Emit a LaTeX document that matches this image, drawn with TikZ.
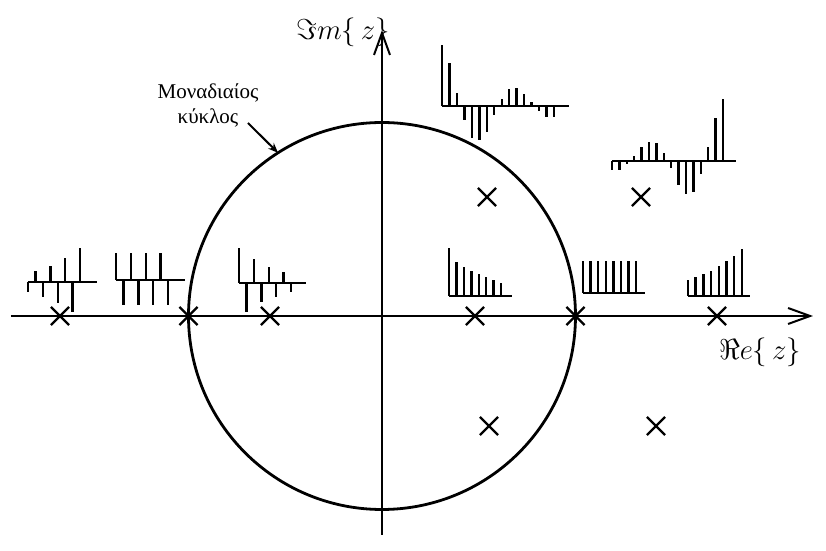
\documentclass[tikz,border=0pt]{standalone}
\usepackage{fontspec}
\setmainfont{Liberation Serif}
\usetikzlibrary{arrows.meta,shapes.misc}

\tikzset{
  axis/.style={line width=1pt,-{Straight Barb[length=11pt,width=8pt,line width=1pt]}},
  pole/.style={draw,cross out,line width=1.1pt,inner sep=0pt,minimum size=8pt},
  stem/.style={line width=1.2pt},
  ring/.style={line width=1.4pt},
}

\begin{document}
\begin{tikzpicture}[x=0.5pt,y=0.5pt]
			\useasboundingbox (-382,-235) rectangle (444,316);
			% Axes
			\coordinate (W) at (-371,0);
			\coordinate (E) at (431,0);
			\coordinate (S) at (0,-219);
			\coordinate (N) at (0,286);
			\draw[axis] (W) -- (E);
			\draw[axis] (S) -- (N);
			\node (re) at (378,-36) {\Large $\Re e\{\,z\}$};
			\node (im) at (-39,284) {\Large $\Im m\{\,z\}$};
			% Unit circle
			\draw[ring] (0,0) circle (193.5);
			\coordinate (rim) at (122.5:193.5);
			\node[align=center,font=\fontsize{10.5}{12.5}\selectfont] (lbl) at (-174,211) {Μοναδιαίος\\κύκλος};
			\coordinate (lbltail) at (-134,193);
			\draw[line width=1pt,-{Stealth[length=5pt,width=4pt]}] (lbltail) -- (rim);
			% Poles
			\foreach \x/\y [count=\i] in {-322/0,-193.5/0,-112/0,93/0,193.5/0,335/0,105/119,107/-110,259/119,274/-110}
				\node[pole] (p\i) at (\x,\y) {};
			% Responses on the real axis
			\draw[stem] (-354,34) -- (-285,34);
			\foreach \h [count=\n from 0] in {-10,11,-15,16,-21,24,-30,34}
				\draw[stem] (-354+7.45*\n,34) -- ++(0,\h);
			\draw[stem] (-266,36) -- (-197,36);
			\foreach \h [count=\n from 0] in {27,-25,27,-25,27,-25,27,-25}
				\draw[stem] (-266+7.45*\n,36) -- ++(0,\h);
			\draw[stem] (-143,33) -- (-76,33);
			\foreach \h [count=\n from 0] in {35,-29,24,-19,16,-14,11,-9}
				\draw[stem] (-143+7.45*\n,33) -- ++(0,\h);
			\draw[stem] (67,20) -- (130,20);
			\foreach \h [count=\n from 0] in {48,34,29,25,22,19,16,13}
				\draw[stem] (67+7.45*\n,20) -- ++(0,\h);
			\draw[stem] (201,23) -- (263,23);
			\foreach \h [count=\n from 0] in {32,32,32,32,32,32,32,32}
				\draw[stem] (201+7.6*\n,23) -- ++(0,\h);
			\draw[stem] (306,20) -- (368,20);
			\foreach \h [count=\n from 0] in {16,19,22,25,30,35,40,47}
				\draw[stem] (306+7.7*\n,20) -- ++(0,\h);
			% Responses of the complex poles
			\draw[stem] (60,210) -- (187,210);
			\foreach \h [count=\n from 0] in {61,43,13,-14,-32,-34,-26,-9,7,17,18,12,4,-5,-11,-11}
				\draw[stem] (60+7.47*\n,210) -- ++(0,\h);
			\draw[stem] (230,155) -- (354,155);
			\foreach \h [count=\n from 0] in {-9,-9,-3,5,14,19,18,8,-7,-24,-33,-31,-13,14,43,62}
				\draw[stem] (230+7.4*\n,155) -- ++(0,\h);
		\end{tikzpicture}
\end{document}
